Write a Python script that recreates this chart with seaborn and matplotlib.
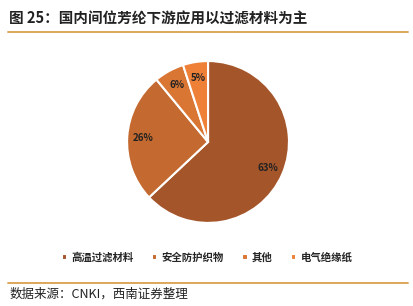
import matplotlib
matplotlib.use("Agg")
import matplotlib.pyplot as plt
import seaborn as sns
from matplotlib.lines import Line2D

sns.set_theme(style="white")
plt.rcParams['font.family'] = ['Noto Sans CJK SC', 'DejaVu Sans']

categories = ["高温过滤材料", "安全防护织物", "其他", "电气绝缘纸"]
values = [63, 26, 6, 5]
colors = ["#A5552A", "#C4692F", "#D97634", "#EE8038"]

title = "图 25：国内间位芳纶下游应用以过滤材料为主"
source = "数据来源：CNKI，西南证券整理"

fig = plt.figure(figsize=(4.14, 3.06), dpi=100)

fig.text(0.022, 0.94, title, fontsize=10.5, fontweight='bold', color="#222222", va='center', ha='left')
fig.add_artist(Line2D([0.02, 0.985], [0.895, 0.895], color="#D9A04C", lw=1.3))
fig.add_artist(Line2D([0.02, 0.985], [0.075, 0.075], color="#D9A04C", lw=1.3))
fig.text(0.022, 0.04, source, fontsize=9, style='italic', color="#222222", va='center', ha='left')

ax = fig.add_axes([0.307, 0.268, 0.391, 0.536])
wedges, texts, autotexts = ax.pie(values, colors=colors, startangle=90, counterclock=False,
                                  autopct='%d%%', pctdistance=0.8,
                                  wedgeprops=dict(edgecolor='white', linewidth=1.5))
for t in autotexts:
    t.set_fontsize(7)
    t.set_fontweight('bold')
    t.set_color('#222222')
ax.set_xlim(-1.0, 1.0)
ax.set_ylim(-1.0, 1.0)
ax.set_aspect('equal')

leg = fig.legend(wedges, categories, loc='center', bbox_to_anchor=(0.5, 0.16), ncol=4,
                 frameon=False, fontsize=7.5, handlelength=0.5, handleheight=0.5,
                 columnspacing=1.8, handletextpad=0.4)
for t in leg.get_texts():
    t.set_fontweight('bold')

fig.savefig("out.png", dpi=100)
